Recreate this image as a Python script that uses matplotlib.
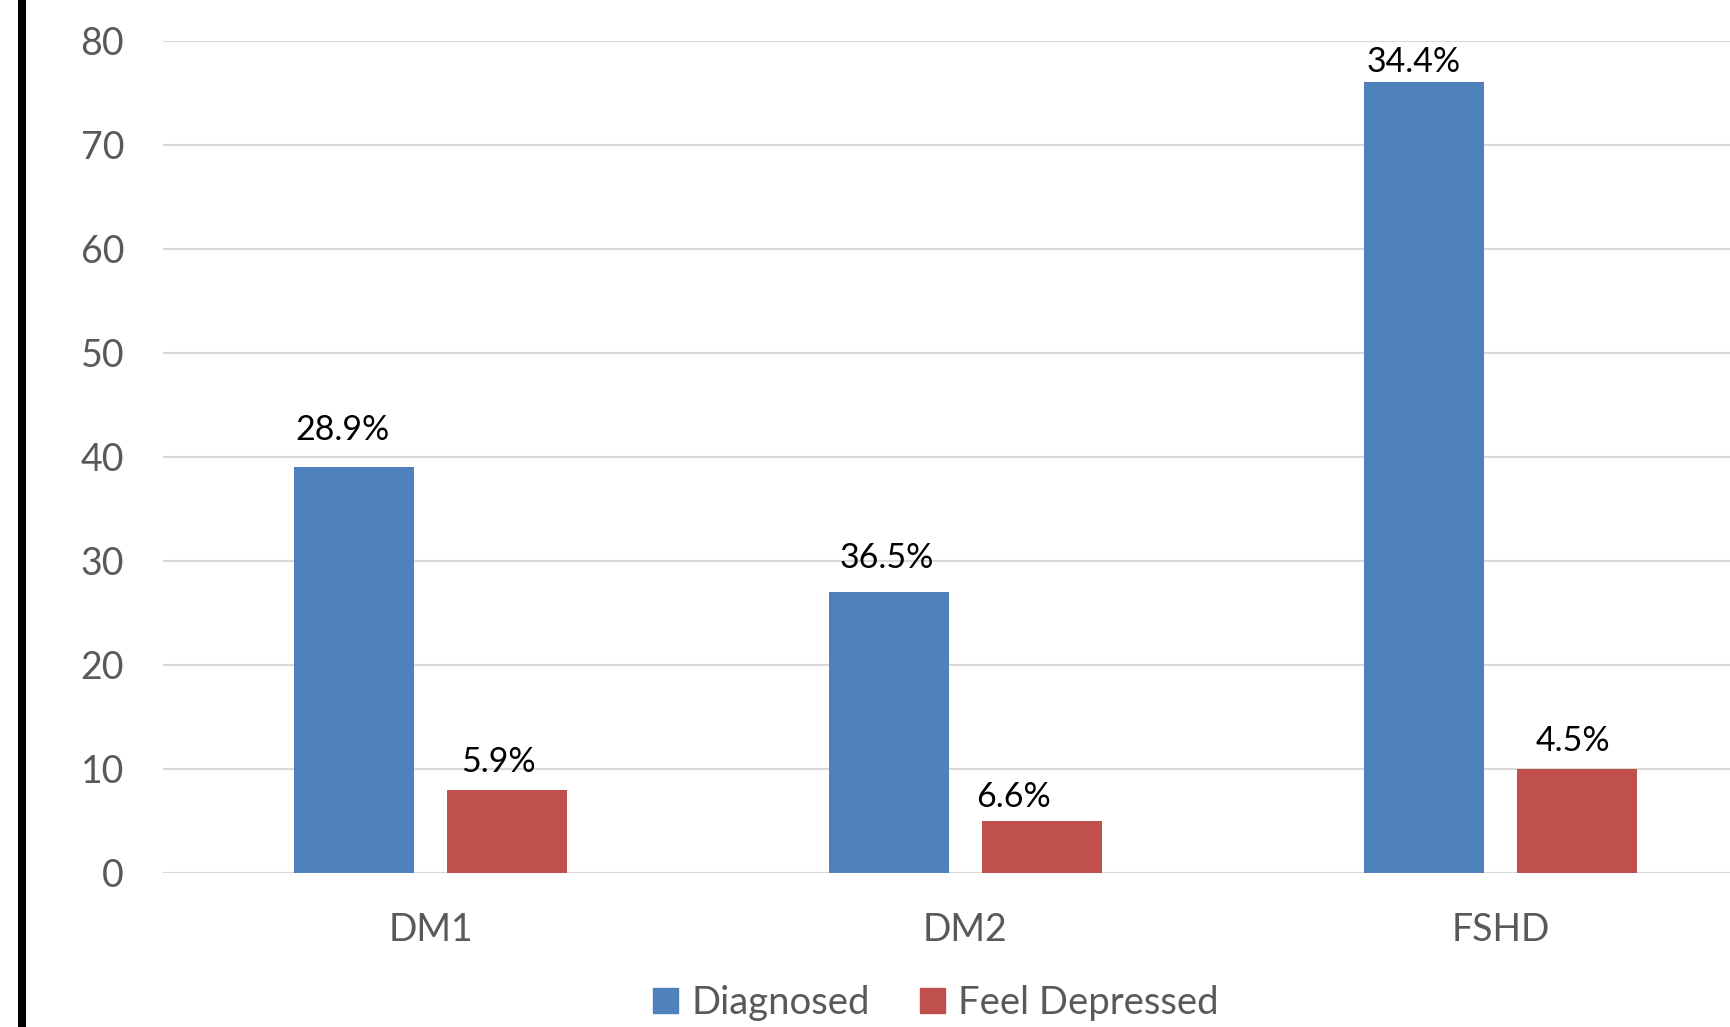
import matplotlib.pyplot as plt
from matplotlib.patches import Patch
from matplotlib.lines import Line2D
import numpy as np

plt.rcParams['font.family'] = ['Lato', 'DejaVu Sans']

groups = ['DM1', 'DM2', 'FSHD']
diagnosed = [39, 27, 76]
feel_depressed = [8, 5, 10]
diagnosed_pct = ['28.9%', '36.5%', '34.4%']
depressed_pct = ['5.9%', '6.6%', '4.5%']
y_ticks = [0, 10, 20, 30, 40, 50, 60, 70, 80]

# hand-placed label nudges (pixels: dx, dy above bar top)
diag_nudge = [(-11, 37), (-2, 34), (-10, 20)]
dep_nudge = [(-9, 28), (-29, 24), (-4, 28)]

blue = '#4F81BD'
red = '#C0504D'
grey = '#595959'

fig = plt.figure(figsize=(17.3, 10.27), dpi=100)
ax = fig.add_axes([163 / 1730, 1 - 872.7 / 1027, (1768 - 163) / 1730, (872.7 - 40.8) / 1027])

x = np.arange(len(groups))
w = 0.224
off = 0.143
b1 = ax.bar(x - off, diagnosed, w, color=blue, zorder=3)
b2 = ax.bar(x + off, feel_depressed, w, color=red, zorder=3)

for bars, labels, nudge in [(b1, diagnosed_pct, diag_nudge), (b2, depressed_pct, dep_nudge)]:
    for rect, lab, (dx, dy) in zip(bars, labels, nudge):
        ax.annotate(lab, (rect.get_x() + rect.get_width() / 2, rect.get_height()),
                    xytext=(dx, dy), textcoords='offset pixels',
                    ha='center', va='center', fontsize=24.5, color='black')

ax.set_xlim(-0.5, 2.5)
ax.set_ylim(0, 80)
ax.set_yticks(y_ticks)
ax.set_xticks(x)
ax.set_xticklabels(groups)
ax.tick_params(axis='both', length=0, labelsize=27, colors=grey)
ax.tick_params(axis='y', pad=28)
ax.tick_params(axis='x', pad=28)
ax.yaxis.grid(True, color='#D9D9D9', linewidth=1.5, zorder=0)
ax.set_axisbelow(True)
for s in ax.spines.values():
    s.set_visible(False)

handles = [Patch(color=blue, label='Diagnosed'), Patch(color=red, label='Feel Depressed')]
leg = fig.legend(handles=handles, loc='center', bbox_to_anchor=(936 / 1730, 1 - 1003 / 1027),
                 ncol=2, frameon=False, fontsize=27.5, handlelength=0.65, handleheight=0.65,
                 handletextpad=0.35, columnspacing=1.3, borderaxespad=0)
for t in leg.get_texts():
    t.set_color(grey)

# thick black rule on the left edge
fig.add_artist(Line2D([22 / 1730, 22 / 1730], [0, 1], color='black', linewidth=5.8,
                      transform=fig.transFigure))

fig.savefig('out.png', dpi=100)
